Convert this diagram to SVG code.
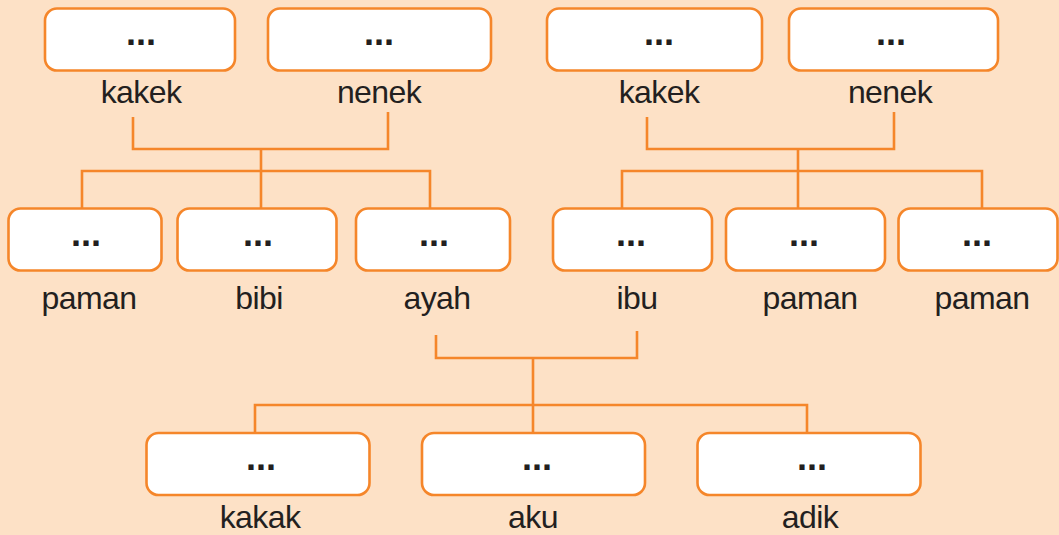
<svg xmlns="http://www.w3.org/2000/svg" width="1059" height="535" viewBox="0 0 1059 535">
<style>
.bg{fill:#FDE1C6}
.box{fill:#FFFFFF;stroke:#F5862A;stroke-width:2.6}
.ln{fill:none;stroke:#F5862A;stroke-width:2.6}
.lbl{font-family:"Liberation Sans",Arial,sans-serif;font-size:32px;fill:#231F20;text-anchor:middle;letter-spacing:-0.6px}
.dots{font-family:"Liberation Sans",Arial,sans-serif;font-size:36px;font-weight:bold;fill:#231F20;text-anchor:middle}
</style>
<rect class="bg" x="0" y="0" width="1059" height="535"/>
<g id="connectors">
<path class="ln" d="M133 117 V149 H388 V112 M261 149 V208 M82 208 V171 H430 V208"/>
<path class="ln" d="M647 117 V149 H894 V112 M798 149 V208 M622 208 V171 H982 V208"/>
<path class="ln" d="M436 335 V358 H637 V331 M533 358 V433 M255 433 V405 H807 V433"/>
</g>
<g id="kakek1"><rect class="box" x="45" y="8.5" width="190" height="62" rx="12"/><text class="dots" x="141" y="45">...</text><text class="lbl" x="141" y="103">kakek</text></g>
<g id="nenek1"><rect class="box" x="268" y="8.5" width="223" height="62" rx="12"/><text class="dots" x="379" y="45">...</text><text class="lbl" x="379" y="103">nenek</text></g>
<g id="kakek2"><rect class="box" x="547" y="8.5" width="215" height="62" rx="12"/><text class="dots" x="659" y="45">...</text><text class="lbl" x="659" y="103">kakek</text></g>
<g id="nenek2"><rect class="box" x="789" y="8.5" width="209" height="62" rx="12"/><text class="dots" x="891" y="45">...</text><text class="lbl" x="890" y="103">nenek</text></g>
<g id="paman1"><rect class="box" x="8.5" y="208.5" width="153" height="62" rx="12"/><text class="dots" x="86" y="246">...</text><text class="lbl" x="89" y="309">paman</text></g>
<g id="bibi"><rect class="box" x="177.5" y="208.5" width="159" height="62" rx="12"/><text class="dots" x="258" y="246">...</text><text class="lbl" x="259" y="309">bibi</text></g>
<g id="ayah"><rect class="box" x="356" y="208.5" width="154" height="62" rx="12"/><text class="dots" x="434" y="246">...</text><text class="lbl" x="437" y="309">ayah</text></g>
<g id="ibu"><rect class="box" x="553" y="208.5" width="159" height="62" rx="12"/><text class="dots" x="631" y="246">...</text><text class="lbl" x="637" y="309">ibu</text></g>
<g id="paman2"><rect class="box" x="726" y="208.5" width="159" height="62" rx="12"/><text class="dots" x="804" y="246">...</text><text class="lbl" x="810" y="309">paman</text></g>
<g id="paman3"><rect class="box" x="898.5" y="208.5" width="159" height="62" rx="12"/><text class="dots" x="977" y="246">...</text><text class="lbl" x="982" y="309">paman</text></g>
<g id="kakak"><rect class="box" x="146.5" y="433" width="223" height="62" rx="12"/><text class="dots" x="261" y="470">...</text><text class="lbl" x="260" y="528">kakak</text></g>
<g id="aku"><rect class="box" x="422" y="433" width="223" height="62" rx="12"/><text class="dots" x="537" y="470">...</text><text class="lbl" x="533" y="528">aku</text></g>
<g id="adik"><rect class="box" x="697.5" y="433" width="223" height="62" rx="12"/><text class="dots" x="812" y="470">...</text><text class="lbl" x="810" y="528">adik</text></g>
</svg>
